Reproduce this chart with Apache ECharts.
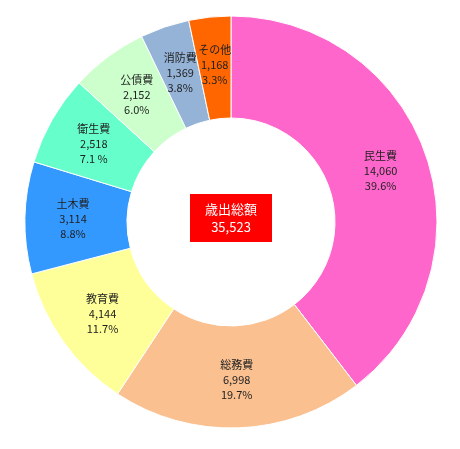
<!DOCTYPE html>
<html><head><meta charset="utf-8">
<script src="https://cdn.jsdelivr.net/npm/echarts@6/dist/echarts.min.js"></script>
<style>html,body{margin:0;padding:0;background:#fff}#c{width:460px;height:449px}</style>
</head><body><div id="c"></div>
<script>
const categories = ['民生費','総務費','教育費','土木費','衛生費','公債費','消防費','その他'];
const values = [14060, 6998, 4144, 3114, 2518, 2152, 1369, 1168];
const percentLabels = ['39.6%','19.7%','11.7%','8.8%','7.1 %','6.0%','3.8%','3.3%'];
const colors = ['#FF66CC','#FAC090','#FFFF99','#3399FF','#66FFCC','#CCFFCC','#95B3D7','#FF6600'];
const centerTitle = '歳出総額';

const total = values.reduce((a,b)=>a+b,0);
const fmt = n => n.toLocaleString('en-US');

const chart = echarts.init(document.getElementById('c'));
chart.setOption({
  backgroundColor:'#fff',
  animation:false,
  title:{
    text: centerTitle + '\n' + fmt(total),
    left:216, top:194,
    textAlign:'center',
    backgroundColor:'#FF0000',
    padding:[6,15],
    textStyle:{color:'#fff',fontSize:13,fontWeight:'normal',lineHeight:18,fontFamily:'Noto Sans CJK JP'}
  },
  series:[{
    type:'pie',
    center:[231,222],
    radius:[104,206],
    startAngle:90,
    clockwise:true,
    itemStyle:{borderColor:'#fff',borderWidth:1},
    label:{
      show:true, position:'inside',
      color:'#222', fontSize:11, lineHeight:15,
      fontFamily:'Noto Sans CJK JP',
      formatter: p => p.name + '\n' + fmt(p.value) + '\n' + percentLabels[p.dataIndex]
    },
    labelLine:{show:false},
    emphasis:{disabled:true},
    data: categories.map((c,i)=>({name:c,value:values[i],itemStyle:{color:colors[i]}}))
  }]
});
</script></body></html>
